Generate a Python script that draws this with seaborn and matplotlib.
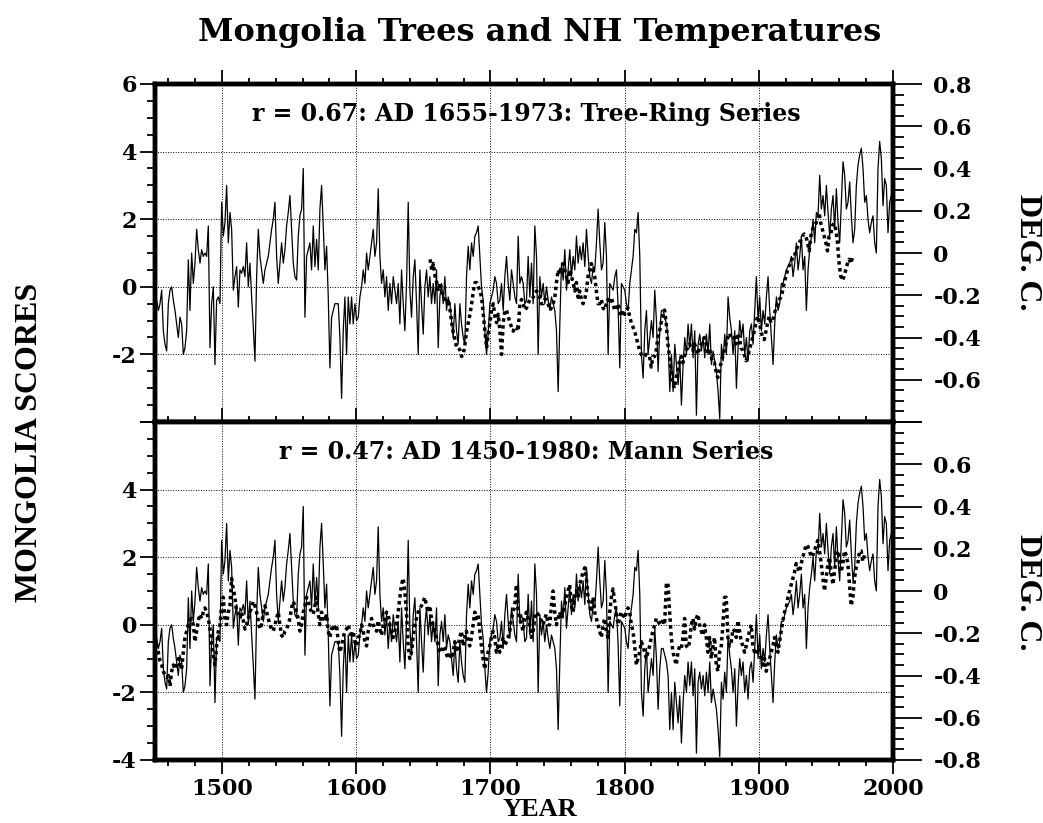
import numpy as np
import matplotlib
matplotlib.use("Agg")
import matplotlib.pyplot as plt
import seaborn as sns
from matplotlib.ticker import MultipleLocator, FixedLocator, FuncFormatter

# ---------------- data ----------------
# Mongolia tree-ring scores (left axis), sampled evenly 1450-2000
tree_score = [
    -0.5,-0.4,-0.7,-0.5,-0.1,-1.3,-1.7,-1.9,-0.5,-0.1,
    0.0,-0.4,-0.7,-1.1,-1.5,-0.9,-1.1,-2.0,-1.8,-1.3,
    0.8,-0.7,1.0,0.1,0.7,1.7,1.1,0.7,1.1,0.9,
    1.0,0.9,1.8,-1.8,-0.5,0.0,-2.3,-0.4,-0.3,-0.5,
    2.5,1.5,1.9,3.0,1.3,2.2,1.7,-0.1,0.3,0.6,
    -0.6,0.5,0.4,0.6,0.3,1.3,0.0,0.7,-0.3,-1.2,
    -2.2,0.3,1.7,0.9,0.5,0.1,0.5,0.7,0.9,1.3,
    1.7,2.0,2.5,0.9,0.1,0.7,1.3,0.7,1.1,1.8,
    2.2,2.7,1.7,0.7,0.3,0.2,1.5,2.1,2.3,3.5,
    -0.9,0.9,1.1,1.3,0.5,1.8,0.6,1.4,0.5,2.3,
    3.0,1.8,0.5,1.2,-0.3,-2.4,-0.9,-0.7,-0.5,-0.5,
    -0.5,-1.5,-3.3,-1.3,-0.3,-2.0,-0.3,-1.1,-0.3,-1.1,
    -0.5,-1.0,-0.9,-0.3,0.0,0.5,0.1,1.0,0.5,0.9,
    1.3,1.7,0.9,1.3,2.9,0.9,0.1,0.5,-0.3,0.3,
    -0.7,0.1,-0.5,0.3,-0.1,-0.5,0.1,-1.1,0.5,-0.5,
    -1.3,0.1,2.5,-0.1,-0.9,0.3,0.8,-0.5,-2.0,0.5,
    -0.5,-1.4,0.0,0.5,-0.3,0.3,-0.5,0.1,-0.5,0.5,
    -1.8,-0.3,0.1,-0.5,0.3,-0.7,-0.3,-0.5,-1.0,-1.5,
    -0.5,-1.3,-1.7,-0.5,-1.1,-1.5,-1.7,0.3,1.2,0.5,
    1.3,0.9,1.5,1.6,1.8,0.9,0.0,-0.4,-1.3,-2.0,
    -1.4,-0.5,-0.3,-0.1,0.3,0.1,-0.5,-0.4,0.1,-0.7,
    0.3,0.9,0.1,-0.4,0.5,0.1,-0.3,-0.5,1.5,
    0.1,0.3,0.1,-0.5,-0.4,0.9,-0.3,0.7,-0.5,1.8,
    0.9,-2.0,0.3,-0.3,0.1,-0.5,0.0,-0.4,-0.7,-0.3,
    -0.5,-0.7,-1.3,-3.1,-1.1,0.7,0.2,1.1,-0.1,0.5,
    1.1,0.3,0.9,0.5,1.5,0.7,1.2,0.8,1.3,0.6,
    1.7,0.9,0.3,0.1,0.6,0.5,1.3,2.3,1.3,0.5,
    0.7,1.9,0.9,-2.0,0.1,0.0,-0.1,0.3,0.5,-0.6,
    -2.4,0.1,0.0,-0.1,-0.5,-0.7,0.1,0.5,0.9,1.7,
    1.6,2.2,0.9,-2.0,-2.7,-1.3,-0.7,-2.0,-1.5,-1.0,
    -1.5,-0.1,-1.0,-2.5,-1.3,-0.7,-0.7,-0.9,-1.1,-1.5,
    -3.1,-2.0,-3.1,-1.7,-2.3,-2.9,-2.1,-3.5,-2.3,-1.5,
    -2.0,-1.1,-1.8,-1.1,-2.1,-1.3,-3.8,-1.7,-1.4,-1.9,
    -1.5,-2.1,-1.4,-2.0,-1.1,-2.3,-1.9,-2.2,-2.5,-3.1,
    -3.9,-1.7,-2.2,-1.4,-2.0,-0.3,-0.9,-1.3,-2.0,-1.3,
    -3.0,-1.8,-1.0,-1.5,-1.1,-2.0,-1.5,-2.2,-1.3,-1.1,
    -1.7,-0.7,0.3,-1.0,-0.3,-1.3,-0.7,-1.1,-0.3,0.3,
    -0.7,-1.5,-2.3,-1.1,-0.3,-0.7,-0.5,0.1,0.1,0.3,
    0.5,0.6,0.7,0.9,0.3,0.7,1.3,0.5,0.9,1.5,
    0.5,0.9,-0.7,0.5,1.1,1.5,2.0,1.3,2.2,2.1,
    3.3,2.3,2.7,2.1,3.0,2.2,1.5,2.3,2.7,1.7,
    2.9,1.9,1.3,2.5,3.7,3.3,2.3,2.5,3.1,2.1,
    1.3,1.7,3.0,3.6,3.9,4.1,3.5,2.5,2.7,2.0,
    1.6,1.9,2.1,1.3,1.0,3.5,4.3,3.8,2.4,3.2,
    3.0,1.6,2.5,2.7,2.0,
]
tree_start, tree_end = 1450, 2000

# Tree-ring temperature series, deg C (right axis, top panel), 1655-1973
ring_temp = [
    -0.03,-0.08,-0.05,-0.11,-0.14,-0.18,-0.14,-0.18,-0.21,-0.22,
    -0.24,-0.22,-0.27,-0.33,-0.38,-0.41,-0.45,-0.45,-0.46,-0.49,
    -0.48,-0.43,-0.37,-0.33,-0.29,-0.24,-0.18,-0.14,-0.14,-0.16,
    -0.18,-0.21,-0.29,-0.37,-0.45,-0.38,-0.33,-0.27,-0.24,-0.30,
    -0.33,-0.29,-0.37,-0.48,-0.33,-0.27,-0.27,-0.30,-0.33,-0.35,
    -0.37,-0.35,-0.35,-0.37,
    -0.24,-0.22,-0.24,-0.27,-0.26,-0.24,-0.22,-0.22,-0.21,-0.19,
    -0.18,-0.19,-0.21,-0.24,-0.24,-0.22,-0.22,-0.24,-0.27,-0.26,
    -0.24,-0.21,-0.14,-0.08,-0.10,-0.06,-0.05,-0.08,-0.11,-0.14,
    -0.08,-0.11,-0.14,-0.18,-0.14,-0.21,-0.18,-0.22,-0.24,-0.22,
    -0.18,-0.11,-0.08,-0.05,-0.08,-0.11,-0.18,-0.24,-0.24,-0.22,
    -0.26,-0.27,-0.24,-0.22,-0.24,-0.21,-0.24,-0.27,-0.27,-0.24,
    -0.27,-0.30,-0.27,-0.29,-0.27,-0.26,-0.30,-0.33,-0.35,-0.37,
    -0.40,-0.43,-0.46,-0.48,-0.49,-0.49,-0.48,-0.49,-0.49,-0.54,
    -0.49,-0.49,-0.46,-0.40,-0.37,-0.33,-0.29,-0.27,-0.33,-0.43,
    -0.49,-0.56,-0.62,-0.64,-0.59,-0.56,-0.51,-0.49,-0.52,-0.49,
    -0.46,-0.45,-0.43,-0.45,-0.46,-0.43,-0.45,-0.48,-0.45,-0.43,
    -0.41,-0.40,-0.43,-0.48,-0.45,-0.49,-0.52,-0.52,-0.56,-0.59,
    -0.56,-0.52,-0.49,-0.46,-0.43,-0.40,-0.38,-0.40,-0.41,-0.40,
    -0.43,-0.38,-0.40,-0.45,-0.46,-0.48,-0.51,-0.49,-0.46,-0.43,
    -0.40,-0.37,-0.33,-0.30,-0.33,-0.37,-0.40,-0.41,-0.37,-0.33,
    -0.30,-0.33,-0.32,-0.29,-0.26,-0.24,-0.22,-0.21,-0.18,-0.14,
    -0.11,-0.08,-0.06,-0.05,-0.02,-0.02,0.01,0.03,0.05,0.06,
    0.08,0.09,0.08,0.05,0.01,0.08,0.11,0.13,0.14,0.16,
    0.19,0.14,0.11,0.08,0.05,0.01,0.08,0.09,0.13,0.14,
    0.11,0.05,-0.05,-0.11,-0.13,-0.11,-0.08,-0.05,-0.03,-0.05,
    -0.02,-0.03,
]
ring_start, ring_end = 1655, 1971

# Mann series, deg C (right axis, bottom panel), 1450-1980
mann_temp = [
    -0.22,-0.26,-0.29,-0.33,-0.35,-0.38,-0.40,-0.41,-0.40,-0.45,
    -0.38,-0.35,-0.37,-0.35,-0.32,-0.35,-0.37,-0.29,-0.22,-0.19,
    -0.16,-0.14,-0.13,-0.16,-0.24,-0.19,-0.14,-0.11,-0.13,-0.10,
    -0.08,-0.10,-0.13,-0.18,-0.26,-0.30,-0.35,-0.26,-0.19,-0.16,
    -0.07,-0.03,-0.13,-0.16,-0.10,-0.07,0.06,0.01,-0.03,-0.10,
    -0.11,-0.13,-0.10,-0.14,-0.18,-0.16,-0.13,-0.10,-0.08,-0.05,
    -0.07,-0.10,-0.14,-0.18,-0.16,-0.10,-0.07,-0.10,-0.13,-0.16,
    -0.18,-0.19,-0.16,-0.13,-0.10,-0.16,-0.21,-0.22,-0.19,-0.18,
    -0.16,-0.13,-0.08,-0.05,-0.07,-0.10,-0.13,-0.19,-0.16,-0.10,
    -0.07,-0.03,-0.05,-0.08,-0.10,-0.11,-0.07,-0.03,-0.11,-0.16,
    -0.10,-0.13,-0.14,-0.11,-0.19,-0.22,-0.18,-0.16,-0.19,-0.16,
    -0.24,-0.29,-0.26,-0.22,-0.19,-0.18,-0.16,-0.19,-0.22,-0.19,
    -0.24,-0.26,-0.22,-0.21,-0.16,-0.19,-0.24,-0.26,-0.19,-0.16,
    -0.13,-0.16,-0.18,-0.19,-0.14,-0.18,-0.21,-0.16,-0.13,-0.10,
    -0.11,-0.16,-0.19,-0.22,-0.19,-0.16,-0.10,-0.03,0.03,0.06,
    0.00,-0.10,-0.26,-0.32,-0.29,-0.22,-0.16,-0.13,-0.10,-0.08,
    -0.07,-0.05,-0.03,-0.07,-0.10,-0.07,-0.13,-0.16,-0.19,-0.22,
    -0.26,-0.29,-0.29,-0.26,-0.27,-0.30,-0.32,-0.29,-0.32,-0.29,
    -0.24,-0.29,-0.26,-0.22,-0.19,-0.26,-0.22,-0.19,-0.24,-0.26,
    -0.22,-0.16,-0.10,-0.13,-0.11,-0.19,-0.26,-0.32,-0.37,-0.32,
    -0.29,-0.26,-0.22,-0.19,-0.22,-0.29,-0.26,-0.29,-0.26,-0.22,
    -0.26,-0.24,-0.22,-0.19,-0.13,-0.10,-0.07,0.03,
    -0.10,-0.13,-0.16,-0.19,-0.13,-0.10,-0.13,-0.16,-0.22,-0.19,
    -0.13,-0.10,-0.11,-0.13,-0.14,-0.16,-0.13,-0.11,-0.16,-0.16,
    -0.07,0.00,-0.10,-0.16,-0.13,-0.10,-0.13,-0.10,-0.07,-0.03,
    0.00,0.03,-0.07,-0.10,-0.03,0.00,-0.03,0.03,0.06,0.09,
    0.11,0.06,-0.03,-0.07,-0.10,-0.03,-0.10,-0.13,-0.16,-0.19,
    -0.22,-0.16,-0.13,-0.19,-0.22,-0.10,-0.03,0.01,-0.05,-0.10,
    -0.16,-0.13,-0.10,-0.11,-0.13,-0.10,-0.08,-0.10,-0.16,-0.19,
    -0.26,-0.35,-0.32,-0.29,-0.24,-0.26,-0.29,-0.32,-0.29,-0.26,
    -0.22,-0.19,-0.16,-0.13,-0.14,-0.16,-0.16,-0.13,-0.16,0.03,
    0.04,-0.10,-0.22,-0.29,-0.32,-0.35,-0.29,-0.26,-0.27,-0.22,
    -0.13,-0.26,-0.27,-0.24,-0.16,-0.13,-0.18,-0.13,-0.11,-0.16,
    -0.19,-0.21,-0.16,-0.22,-0.29,-0.22,-0.32,-0.26,-0.22,-0.35,
    -0.38,-0.29,-0.26,-0.16,-0.03,-0.03,-0.22,-0.26,-0.24,-0.18,
    -0.19,-0.22,-0.14,-0.19,-0.24,-0.26,-0.29,-0.26,-0.22,-0.19,
    -0.16,-0.26,-0.29,-0.30,-0.27,-0.29,-0.32,-0.35,-0.32,-0.38,
    -0.35,-0.32,-0.29,-0.26,-0.22,-0.26,-0.29,-0.24,-0.19,-0.14,
    -0.10,-0.08,-0.03,0.00,0.03,0.06,0.09,0.13,0.11,0.09,
    0.13,0.16,0.19,0.22,0.21,0.19,0.16,0.17,0.19,0.22,
    0.24,0.19,0.13,0.06,0.00,0.06,0.13,0.16,0.09,0.03,
    0.09,0.16,0.19,0.16,0.09,0.13,0.19,0.17,0.13,0.03,
    -0.07,-0.03,0.06,0.11,0.13,0.19,0.19,0.14,0.17,0.16,
]
mann_start, mann_end = 1450, 1980

title = "Mongolia Trees and NH Temperatures"
top_note = "r = 0.67: AD 1655-1973: Tree-Ring Series"
bottom_note = "r = 0.47: AD 1450-1980: Mann Series"
x_label = "YEAR"
left_label = "MONGOLIA SCORES"
right_label = "DEG. C."

tree_years = np.linspace(tree_start, tree_end, len(tree_score))
ring_years = np.linspace(ring_start, ring_end, len(ring_temp))
mann_years = np.linspace(mann_start, mann_end, len(mann_temp))

# ---------------- style ----------------
sns.set_style("white")
plt.rcParams['font.family'] = ['DejaVu Serif']
plt.rcParams['font.weight'] = 'bold'
plt.rcParams['axes.unicode_minus'] = False
for k in ('text.color', 'axes.labelcolor', 'xtick.color', 'ytick.color',
          'axes.edgecolor'):
    plt.rcParams[k] = 'black'

W, H = 1043, 823
fig = plt.figure(figsize=(W / 100, H / 100), dpi=100)
fig.patch.set_facecolor('white')

L, R = 155, 893


def rect(top, bot):
    return [L / W, 1 - bot / H, (R - L) / W, (bot - top) / H]


grid_ls = (0, (1, 1.6))
dot_ls = (0, (1.0, 1.0))
SPINE = 3.2
TICKFONT = 16


def left_fmt(hide):
    def f(v, pos):
        if abs(v - hide) < 1e-6:
            return ''
        return '%d' % round(v)
    return FuncFormatter(f)


def right_fmt(hide):
    def f(v, pos):
        if abs(v - hide) < 1e-6:
            return ''
        if abs(v) < 1e-6:
            return '0'
        return '%.1f' % v
    return FuncFormatter(f)


def panel(rect_, dot_x, dot_y, note, hide_left, hide_right, is_top):
    ax = fig.add_axes(rect_)
    ax.set_xlim(1450, 2000)
    ax.set_ylim(-4, 6)
    ax.set_axisbelow(True)
    sns.lineplot(x=tree_years, y=tree_score, ax=ax, color='black',
                 linewidth=0.9, estimator=None, sort=False, zorder=3)
    ax.set_xlabel('')
    ax.set_ylabel('')
    # grid
    for gx in [1500, 1600, 1700, 1800, 1900]:
        ax.axvline(gx, color='black', lw=0.7, ls=grid_ls, zorder=1)
    for gy in [-2, 0, 2, 4]:
        ax.axhline(gy, color='black', lw=0.7, ls=grid_ls, zorder=1)
    # x ticks
    ax.xaxis.set_major_locator(FixedLocator([1500, 1600, 1700, 1800, 1900, 2000]))
    ax.xaxis.set_minor_locator(FixedLocator(np.arange(1460, 2000, 20)))
    if is_top:
        ax.tick_params(axis='x', which='both', top=True, bottom=False,
                       labelbottom=False, labeltop=False, direction='out')
    else:
        ax.tick_params(axis='x', which='both', top=True, bottom=True,
                       labelbottom=True, labeltop=False, direction='out')
    ax.tick_params(axis='x', which='major', length=10, width=1.3,
                   labelsize=TICKFONT, pad=3)
    ax.tick_params(axis='x', which='minor', length=4, width=1.3)
    # left y ticks
    ax.yaxis.set_major_locator(MultipleLocator(2))
    ax.yaxis.set_minor_locator(MultipleLocator(0.5))
    ax.yaxis.set_major_formatter(left_fmt(hide_left))
    ax.tick_params(axis='y', which='both', left=True, right=False,
                   direction='out')
    ax.tick_params(axis='y', which='major', length=11, width=1.3,
                   labelsize=TICKFONT, pad=2)
    ax.tick_params(axis='y', which='minor', length=6, width=1.3)
    for s in ax.spines.values():
        s.set_linewidth(SPINE)
        s.set_color('black')
    # right axis
    axr = ax.twinx()
    axr.set_ylim(-0.8, 0.8)
    sns.lineplot(x=dot_x, y=dot_y, ax=axr, color='black', linewidth=2.5,
                 linestyle=dot_ls, estimator=None, sort=False)
    axr.set_xlim(1450, 2000)
    axr.set_ylabel('')
    axr.yaxis.set_major_locator(MultipleLocator(0.2))
    axr.yaxis.set_minor_locator(MultipleLocator(0.05))
    axr.yaxis.set_major_formatter(right_fmt(hide_right))
    axr.tick_params(axis='y', which='both', right=True, direction='out')
    axr.tick_params(axis='y', which='major', length=21, width=1.3,
                    labelsize=TICKFONT, pad=8)
    axr.tick_params(axis='y', which='minor', length=8, width=1.3)
    for s in axr.spines.values():
        s.set_linewidth(SPINE)
        s.set_color('black')
    ax.text(0.503, 0.912, note, transform=ax.transAxes, ha='center',
            va='center', fontsize=17, fontweight='bold', zorder=5)
    return ax, axr


ax1, ax1r = panel(rect(84, 422), ring_years, ring_temp, top_note,
                  hide_left=-4, hide_right=-0.8, is_top=True)
ax2, ax2r = panel(rect(422, 760), mann_years, mann_temp, bottom_note,
                  hide_left=6, hide_right=0.8, is_top=False)

fig.text(540 / W, 1 - 32 / H, title, ha='center', va='center',
         fontsize=23, fontweight='bold')
fig.text(540 / W, 1 - 809 / H, x_label, ha='center', va='center',
         fontsize=19, fontweight='bold', family='Liberation Serif')
fig.text(30 / W, 1 - 442 / H, left_label, ha='center', va='center',
         rotation=90, fontsize=23, fontweight='bold', family='Liberation Serif')
for yc in (252, 592):
    fig.text(1028 / W, 1 - yc / H, right_label, ha='center', va='center',
             rotation=270, fontsize=23, fontweight='bold',
             family='Liberation Serif')

fig.savefig('out.png', dpi=100, facecolor='white')
